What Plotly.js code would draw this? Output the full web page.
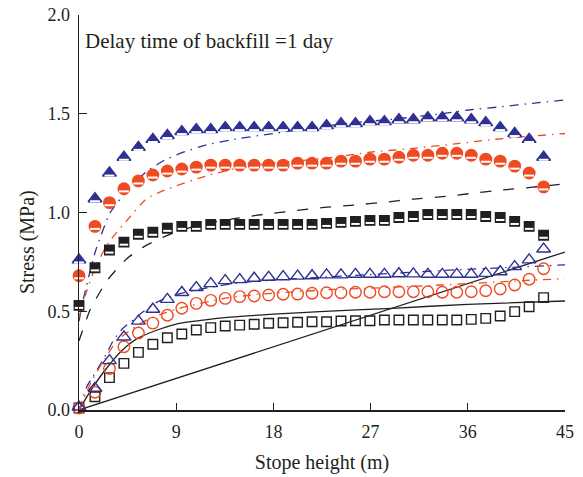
<!DOCTYPE html>
<html>
<head>
<meta charset="utf-8">
<script src="https://cdn.plot.ly/plotly-3.0.1.min.js"></script>
<style>html,body{margin:0;padding:0;background:#fff;}#chart{width:583px;height:477px;}</style>
</head>
<body>
<div id="chart"></div>
<script>
// Measured stope heights (m)
const xs = [0, 1.48, 2.82, 4.16, 5.50, 6.84, 8.18, 9.52, 10.86, 12.2, 13.54, 14.88, 16.22, 17.56, 18.9, 20.24, 21.58, 22.92, 24.26, 25.6, 26.94, 28.28, 29.62, 30.96, 32.3, 33.64, 34.98, 36.32, 37.66, 39.0, 40.34, 41.68, 43.02];
// Filled markers (upper group)
const triFilled = [0.76, 1.07,1.20,1.28,1.33,1.37,1.39,1.41,1.42,1.42,1.43,1.43, 1.43,1.43,1.43,1.43,1.43,1.44,1.45,1.45,1.46,1.46,1.47, 1.47,1.48,1.48,1.48,1.47,1.455,1.43,1.40,1.37,1.28];
const cirFilled = [0.68, 0.93,1.05,1.12,1.16,1.19,1.21,1.22,1.23,1.24,1.24,1.24, 1.24,1.24,1.24,1.25,1.25,1.25,1.26,1.26,1.27,1.27,1.28, 1.29,1.29,1.30,1.30,1.29,1.27,1.26,1.235,1.20,1.13];
const sqFilled  = [0.53, 0.72,0.81,0.85,0.89,0.90,0.92,0.93,0.93,0.94,0.94,0.94, 0.94,0.94,0.94,0.94,0.94,0.945,0.95,0.955,0.96,0.96,0.975, 0.98,0.99,0.99,0.99,0.99,0.98,0.975,0.955,0.93,0.885];
// Open markers (lower group)
const triOpen = [0.015, 0.11,0.25,0.37,0.45,0.51,0.56,0.595,0.62,0.64,0.655,0.66, 0.667,0.672,0.675,0.678,0.68,0.684,0.684,0.687,0.687,0.687,0.69, 0.689,0.687,0.687,0.687,0.687,0.692,0.70,0.726,0.76,0.815];
const cirOpen = [0.01, 0.09,0.21,0.32,0.39,0.44,0.48,0.515,0.54,0.555,0.565,0.574, 0.577,0.582,0.586,0.587,0.591,0.594,0.594,0.596,0.596,0.599,0.599, 0.599,0.599,0.596,0.596,0.599,0.604,0.613,0.633,0.662,0.715];
const sqOpen  = [0.01, 0.067,0.164,0.236,0.292,0.333,0.366,0.385,0.405,0.417,0.425,0.43, 0.434,0.439,0.442,0.444,0.447,0.447,0.451,0.452,0.452,0.456,0.456, 0.456,0.456,0.456,0.456,0.459,0.464,0.476,0.498,0.523,0.569];

// Theoretical curves
const blueUpX = [0, 0.4, 1.5, 2.9, 4.3, 6.25, 7.95, 9.8, 11.8, 14, 18, 24.6, 29, 33.6, 36.1, 39.2, 42, 45];
const blueUpY = [0.45, 0.56, 0.80, 1.0, 1.10, 1.207, 1.266, 1.308, 1.342, 1.367, 1.40, 1.45, 1.472, 1.50, 1.519, 1.536, 1.553, 1.57];
const redUpX = [0, 0.7, 1.5, 2.7, 4.6, 6.25, 8, 9, 10.6, 11.8, 14.4, 18, 22.7, 26.9, 31, 35.2, 38.4, 41.5, 45];
const redUpY = [0.47, 0.60, 0.72, 0.845, 0.97, 1.07, 1.115, 1.135, 1.165, 1.185, 1.222, 1.25, 1.274, 1.305, 1.325, 1.35, 1.37, 1.385, 1.40];
const blackUpX = [0, 0.5, 1.05, 2.6, 4.4, 6.1, 9, 11.5, 14.5, 17.3, 20, 22.7, 25.5, 28.3, 30.9, 33.7, 36.4, 39.2, 42, 45];
const blackUpY = [0.35, 0.43, 0.51, 0.655, 0.765, 0.83, 0.903, 0.94, 0.97, 0.992, 1.009, 1.026, 1.038, 1.052, 1.068, 1.08, 1.097, 1.114, 1.128, 1.145];
const blueLowX = [0, 0.74, 1.3, 2.4, 3.2, 4.0, 5.2, 6.0, 7.0, 9, 12, 15, 20, 25, 30, 35, 40, 45];
const blueLowY = [0, 0.12, 0.17, 0.27, 0.354, 0.41, 0.464, 0.50, 0.54, 0.585, 0.62, 0.645, 0.665, 0.68, 0.695, 0.71, 0.722, 0.735];
const redLowX = [0, 1.2, 2.4, 3.5, 4.9, 6.4, 9.3, 13.6, 16.5, 23.4, 27, 33.6, 41, 45];
const redLowY = [0, 0.15, 0.26, 0.35, 0.41, 0.46, 0.515, 0.566, 0.585, 0.61, 0.617, 0.633, 0.655, 0.665];
const blackCurveX = [0, 1.02, 2.25, 3.95, 5.33, 7, 9, 11.5, 14, 18, 22.3, 29, 36, 45];
const blackCurveY = [0, 0.093, 0.19, 0.30, 0.36, 0.40, 0.435, 0.455, 0.47, 0.485, 0.498, 0.515, 0.535, 0.552];
const blackLineX = [0, 45];
const blackLineY = [0, 0.80];

const xTickVals = [0, 9, 18, 27, 36, 45];
const xTickText = ['0','9','18','27','36','45'];
const yTickVals = [0, 0.5, 1.0, 1.5, 2.0];
const yTickText = ['0.0','0.5','1.0','1.5','2.0'];

const BLUE = '#2e3192', RED = '#ef4b23', BLACK = '#231f20';
const FONT = 'Liberation Serif, Times New Roman, serif';

function line(x, y, color, dash, width) {
  return {x: x, y: y, type: 'scatter', mode: 'lines', line: {color: color, dash: dash, width: width || 1.3, shape: 'spline', smoothing: 0.6}, hoverinfo: 'skip'};
}
function mk(y, symbol, color, size) {
  return {x: xs, y: y, type: 'scatter', mode: 'markers', cliponaxis: false,
    marker: {symbol: symbol, size: size, color: color, line: {color: color, width: 1.4}}};
}
function stripe(y, size) {
  return {x: xs, y: y, type: 'scatter', mode: 'markers', cliponaxis: false, yaxis: 'y2',
    marker: {symbol: 'line-ew-open', size: size, color: '#fff', line: {color: '#fff', width: 2}}};
}

const data = [
  line(blackLineX, blackLineY, BLACK, 'solid', 1.3),
  line(blackCurveX, blackCurveY, BLACK, 'solid', 1.3),
  line(blueLowX, blueLowY, BLUE, '9px,6px,1.5px,6px', 1.3),
  line(redLowX, redLowY, RED, '8px,6px,1.5px,6px', 1.3),
  line(blackUpX, blackUpY, BLACK, '11px,12px', 1.3),
  line(blueUpX, blueUpY, BLUE, '9px,6px,1.5px,6px', 1.3),
  line(redUpX, redUpY, RED, '8px,6px,1.5px,6px', 1.3),
  mk(sqOpen, 'square-open', BLACK, 9.5),
  mk(cirOpen, 'circle-open', RED, 11.5),
  mk(triOpen, 'triangle-up-open', BLUE, 12),
  mk(sqFilled, 'square', BLACK, 9.5),
  mk(cirFilled, 'circle', RED, 11.5),
  mk(triFilled, 'triangle-up', BLUE, 12),
  stripe(sqFilled, 6),
  stripe(cirFilled, 7),
  stripe(triFilled, 7)
];

const layout = {
  width: 583, height: 477,
  margin: {l: 79, r: 18, t: 15, b: 67},
  paper_bgcolor: '#fff', plot_bgcolor: '#fff',
  showlegend: false,
  font: {family: FONT, size: 18, color: BLACK},
  xaxis: {
    range: [0, 45], tickvals: xTickVals, ticktext: xTickText,
    showgrid: false, zeroline: false, showline: true, linecolor: BLACK, linewidth: 1.5,
    ticks: 'inside', ticklen: 7, tickwidth: 1.3, tickcolor: BLACK, ticklabelstandoff: 5,
    tickfont: {family: FONT, size: 18, color: BLACK},
    title: {text: 'Stope height (m)', font: {family: FONT, size: 20, color: BLACK}, standoff: 14}
  },
  yaxis: {
    range: [0, 2.0], tickvals: yTickVals, ticktext: yTickText,
    showgrid: false, zeroline: false, showline: true, linecolor: BLACK, linewidth: 1.5,
    ticks: 'inside', ticklen: 8, tickwidth: 1.3, tickcolor: BLACK, ticklabelstandoff: 4,
    tickfont: {family: FONT, size: 18, color: BLACK}
  },
  yaxis2: {range: [0.013, 2.013], overlaying: 'y', visible: false, showgrid: false, zeroline: false},
  annotations: [{
    xref: 'paper', yref: 'paper', x: 0.008, y: 0.934, xanchor: 'left', yanchor: 'middle',
    text: 'Delay time of backfill =1 day', showarrow: false,
    font: {family: FONT, size: 21, color: BLACK}
  }, {
    xref: 'paper', yref: 'paper', x: -0.107, y: 0.425, xanchor: 'center', yanchor: 'middle',
    text: 'Stress (MPa)', textangle: -90, showarrow: false,
    font: {family: FONT, size: 20, color: BLACK}
  }]
};

Plotly.newPlot('chart', data, layout, {displayModeBar: false, staticPlot: true});
</script>
</body>
</html>
